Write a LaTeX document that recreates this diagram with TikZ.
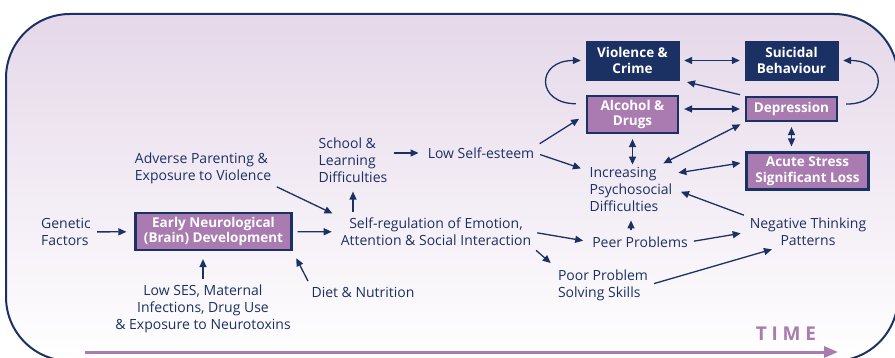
\documentclass[tikz,border=0pt]{standalone}
\usepackage{fontspec}
\setmainfont{Open Sans}
\usetikzlibrary{arrows.meta}

\definecolor{navy}{HTML}{1C3163}
\definecolor{prugna}{HTML}{A97BB0}
\definecolor{lilla}{HTML}{E5D8E9}

\tikzset{
  testo/.style={text=navy, font=\fontsize{14}{17}\selectfont, inner sep=1pt},
  scuro/.style={fill=navy, draw=navy, text=white, align=center,
    font=\bfseries\fontsize{13.5}{15.5}\selectfont,
    minimum width=93pt, minimum height=39pt, inner sep=0pt},
  viola/.style={fill=prugna, draw=navy, line width=2.2pt, text=white, align=center,
    font=\bfseries\fontsize{13.5}{15.5}\selectfont,
    minimum width=91pt, minimum height=37pt, inner sep=0pt},
  freccia/.style={navy, line width=1.3pt, -{Triangle[length=8pt,width=7pt]},
    shorten <=5pt, shorten >=8pt},
  doppia/.style={freccia, {Triangle[length=8pt,width=7pt]}-{Triangle[length=8pt,width=7pt]},
    shorten >=5pt},
}

\begin{document}
\begin{tikzpicture}[x=1pt,y=-1pt]
        \useasboundingbox (0,0) rectangle (895,358);
        \clip (0,0) rectangle (895,358);

        % Disegna lo sfondo
        \shadedraw[top color=lilla, bottom color=white, draw=navy, line width=2pt,
          rounded corners=64pt] (6,14) rectangle (898,361);

        % Disegna i fattori iniziali
        \node[testo, align=left] (gen) at (66,232) {Genetic\\Factors};
        \node[viola, minimum width=156pt] (early) at (213.5,231.5) {Early Neurological\\(Brain) Development};
        \node[testo, align=left] (adv) at (203,168) {Adverse Parenting \&\\Exposure to Violence};
        \node[testo, align=center] (lowses) at (203,309) {Low SES, Maternal\\Infections, Drug Use\\\& Exposure to Neurotoxins};
        \node[testo] (diet) at (363,292) {Diet \& Nutrition};

        % Disegna i fattori intermedi
        \node[testo, align=center] (selfreg) at (436,232) {Self-regulation of Emotion,\\Attention \& Social Interaction};
        \node[testo, align=left] (school) at (353,160) {School \&\\Learning\\Difficulties};
        \node[testo] (lowse) at (481,153) {Low Self-esteem};
        \node[testo, align=left] (incr) at (631,189) {Increasing\\Psychosocial\\Difficulties};
        \node[testo] (peer) at (640,242) {Peer Problems};
        \node[testo, align=left] (poor) at (603,285) {Poor Problem\\Solving Skills};
        \node[testo, align=center] (neg) at (808,232) {Negative Thinking\\Patterns};

        % Disegna gli esiti
        \node[scuro] (viol) at (632.5,60.5) {Violence \&\\Crime};
        \node[scuro] (suic) at (791.5,60.5) {Suicidal\\Behaviour};
        \node[viola] (alc) at (632.5,114.5) {Alcohol \&\\Drugs};
        \node[viola, minimum height=24pt] (dep) at (791.5,109) {Depression};
        \node[viola, minimum width=122pt] (acute) at (807.5,171) {Acute Stress\\Significant Loss};

        % Disegna le frecce
        \draw[freccia] (gen) -- (early);
        \draw[freccia] (early) -- (selfreg);
        \draw[freccia] (lowses.north) -- (early.south -| lowses.north);
        \draw[freccia] (diet.north west) -- (early.south east);
        \draw[freccia] (adv.south east) -- (selfreg.north west);
        \draw[freccia] (selfreg.north -| school) -- (school.south);
        \draw[freccia] (school.east |- lowse) -- (lowse);
        \draw[freccia] (lowse.north east) -- (alc.west);
        \draw[freccia] (lowse.east) -- (incr.157);
        \draw[freccia] (selfreg.east) -- (peer.west);
        \draw[freccia] (selfreg.south east) -- (poor.north west);
        \draw[freccia] (peer.north -| incr) -- (incr.south);
        \draw[freccia] (peer.east) -- (neg.west);
        \draw[freccia] (poor.east) -- (neg.-152);
        \draw[freccia] (neg.north west) -- (incr.east);
        \draw[doppia] (incr.20) -- (acute.172);
        \draw[doppia] (incr.40) -- (dep.south west);
        \draw[doppia, shorten >=1pt] (alc.south) -- (incr.north -| alc.south);
        \draw[doppia] (dep.south) -- (acute.north -| dep.south);
        \draw[doppia] (alc.east |- dep.west) -- (dep.west);
        \draw[doppia] (viol) -- (suic);
        \draw[freccia] (dep.north west) -- (viol.south east);
        \draw[freccia, shorten <=10pt, shorten >=5pt] (alc.167) .. controls +(-50,0) and +(-50,0) .. (viol.west);
        \draw[freccia, shorten <=8pt, shorten >=5pt] (dep.6) .. controls +(50,0) and +(50,0) .. (suic.east);

        % Disegna l'asse del tempo
        \coordinate (t0) at (85,352);
        \coordinate (t1) at (838,352);
        \draw[prugna, line width=3pt, -{Triangle[length=14pt,width=11pt]}] (t0) -- (t1);
        \node[text=prugna, font=\bfseries\fontsize{19}{19}\selectfont\addfontfeature{LetterSpace=25}] (tempo) at (786,334) {TIME};
\end{tikzpicture}
\end{document}
